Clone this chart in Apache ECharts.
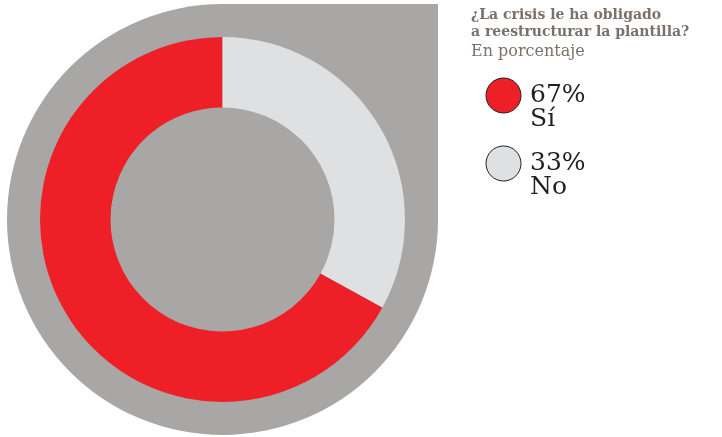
<!DOCTYPE html>
<html>
<head>
<meta charset="utf-8">
<script src="https://cdn.jsdelivr.net/npm/echarts@6/dist/echarts.min.js"></script>
<style>
  html, body { margin: 0; padding: 0; background: #ffffff; }
  #chart { width: 722px; height: 437px; }
</style>
</head>
<body>
<div id="chart"></div>
<script>
// Survey answers and their shares (percent)
const categories = ['Sí', 'No'];
const values = [67, 33];
const colors = ['#ee1f26', '#dfe0e2'];
const titleText = '¿La crisis le ha obligado\na reestructurar la plantilla?';
const subtitleText = 'En porcentaje';

const serif = '"DejaVu Serif", "Liberation Serif", serif';
const bgGray = '#a8a7a5';

const chart = echarts.init(document.getElementById('chart'), null, { renderer: 'canvas' });

chart.setOption({
  animation: false,
  backgroundColor: '#ffffff',
  // teardrop-shaped backdrop behind the donut: circle with a squared top-right corner
  graphic: [
    {
      type: 'circle',
      z: -10,
      shape: { cx: 222.5, cy: 219.5, r: 215.5 },
      style: { fill: bgGray }
    },
    {
      type: 'rect',
      z: -10,
      shape: { x: 222, y: 4, width: 216, height: 220 },
      style: { fill: bgGray }
    }
  ],
  title: {
    text: titleText,
    subtext: subtitleText,
    left: 471,
    top: 7,
    padding: 0,
    itemGap: 2,
    textStyle: {
      fontFamily: serif,
      fontSize: 14,
      fontWeight: 'bold',
      lineHeight: 17,
      color: '#7b716b'
    },
    subtextStyle: {
      fontFamily: serif,
      fontSize: 16,
      lineHeight: 17,
      color: '#7b716b'
    }
  },
  legend: {
    orient: 'vertical',
    left: 485.5,
    top: 59,
    padding: 0,
    icon: 'circle',
    itemWidth: 35,
    itemHeight: 35,
    itemGap: -5,
    selectedMode: false,
    itemStyle: { borderColor: '#231f20', borderWidth: 1 },
    // empty first line keeps the percentage level with the marker, the answer below it
    formatter: function (name) {
      const i = categories.indexOf(name);
      return '\n' + values[i] + '%\n' + name;
    },
    textStyle: {
      fontFamily: serif,
      fontSize: 25,
      lineHeight: 24,
      color: '#231f20',
      padding: [0, 0, 0, 4]
    }
  },
  series: [
    {
      type: 'pie',
      center: [222.5, 219.5],
      radius: [112, 182.5],
      startAngle: 90,
      clockwise: false,
      silent: true,
      label: { show: false },
      labelLine: { show: false },
      itemStyle: { borderWidth: 0 },
      data: categories.map((c, i) => ({
        name: c,
        value: values[i],
        itemStyle: { color: colors[i] }
      }))
    }
  ]
});
</script>
</body>
</html>
